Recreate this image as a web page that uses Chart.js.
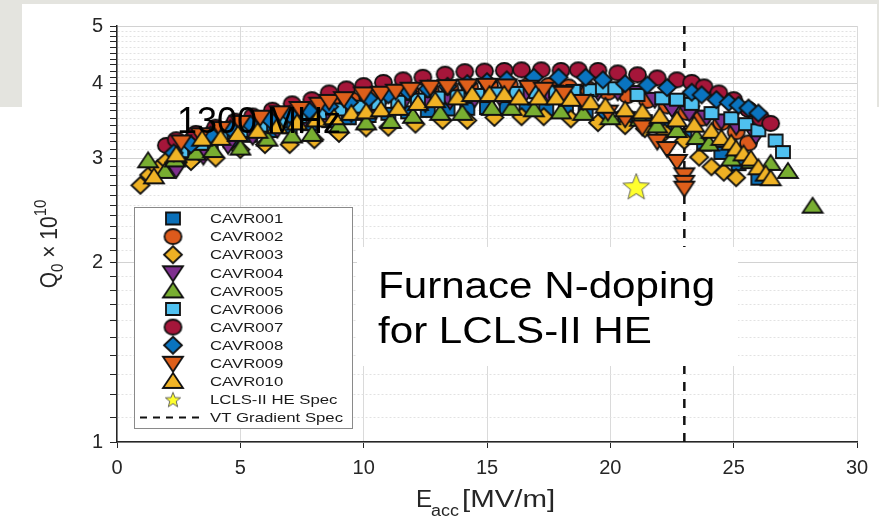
<!DOCTYPE html>
<html>
<head>
<meta charset="utf-8">
<script src="https://cdn.jsdelivr.net/npm/chart.js@4.4.1/dist/chart.umd.min.js"></script>
<style>
html, body { margin: 0; padding: 0; background: #fff; }
#wrap { position: relative; width: 879px; height: 518px; overflow: hidden; background: #fff; }
#slide { position: absolute; left: 0; top: 0; width: 879px; height: 107px; background: #e4e4df; }
#paper { position: absolute; left: 22px; top: 4px; width: 855px; height: 514px; background: #fff; }
#under { position: absolute; left: 0; top: 107px; width: 879px; height: 411px; background: #fff; }
#chart { position: absolute; left: 0; top: 0; }
</style>
</head>
<body>
<div id="wrap">
  <div id="slide"></div>
  <div id="paper"></div>
  <div id="under"></div>
  <canvas id="chart" width="879" height="518"></canvas>
</div>
<script>
// Q0 (x 1e10) vs Eacc (MV/m)
const cavr001X = [2.2, 3.0, 3.8, 4.6, 5.4, 6.2, 7.0, 7.8, 8.6, 9.4, 10.2, 11.0, 11.8, 12.6, 13.4, 14.2, 15.0, 15.8, 16.6, 17.4, 18.2, 19.0, 19.8, 20.6, 21.4, 22.2, 23.0, 23.8, 24.5, 25.2, 26.0];
const cavr001Y = [2.95, 3.04, 3.12, 3.20, 3.27, 3.33, 3.38, 3.42, 3.46, 3.50, 3.53, 3.56, 3.58, 3.60, 3.62, 3.63, 3.64, 3.64, 3.63, 3.62, 3.60, 3.58, 3.55, 3.51, 3.46, 3.38, 3.28, 3.16, 3.06, 2.93, 2.77];

const cavr002X = [2.3, 3.1, 3.9, 4.7, 5.5, 6.3, 7.1, 7.9, 8.7, 9.5, 10.3, 11.1, 11.9, 12.7, 13.5, 14.3, 15.1, 15.9, 16.7, 17.5, 18.3, 19.1, 19.9, 20.7, 21.5, 22.3, 23.1, 23.7, 24.5, 25.1, 25.6];
const cavr002Y = [3.14, 3.24, 3.32, 3.40, 3.47, 3.54, 3.60, 3.66, 3.71, 3.76, 3.80, 3.84, 3.87, 3.90, 3.93, 3.95, 3.97, 3.98, 3.98, 3.97, 3.95, 3.92, 3.87, 3.82, 3.75, 3.67, 3.58, 3.50, 3.44, 3.32, 3.18];

const cavr003X = [0.95, 1.3, 1.65, 2.0, 2.55, 3.0, 4.0, 5.0, 6.0, 7.0, 8.0, 9.0, 10.1, 11.0, 12.1, 13.2, 14.2, 15.3, 16.4, 17.3, 18.4, 19.5, 20.6, 21.4, 22.2, 23.0, 23.6, 24.1, 24.6, 25.1];
const cavr003Y = [2.70, 2.81, 2.88, 2.97, 3.03, 2.96, 3.00, 3.10, 3.16, 3.16, 3.22, 3.30, 3.37, 3.38, 3.42, 3.47, 3.47, 3.51, 3.52, 3.52, 3.49, 3.44, 3.40, 3.36, 3.31, 3.21, 3.01, 2.90, 2.84, 2.78];

const cavr004X = [2.4, 3.5, 4.5, 5.5, 6.5, 7.5, 8.5, 9.5, 10.5, 11.5, 12.5, 13.5, 14.5, 15.5, 16.5, 17.5, 18.5, 19.5, 20.3, 21.1, 21.8, 22.5, 23.2, 23.9, 24.5, 25.1, 25.9];
const cavr004Y = [2.86, 3.01, 3.14, 3.25, 3.34, 3.42, 3.49, 3.55, 3.60, 3.65, 3.69, 3.73, 3.76, 3.79, 3.81, 3.83, 3.85, 3.86, 3.86, 3.85, 3.75, 3.62, 3.56, 3.50, 3.45, 3.38, 3.26];

const cavr005X = [1.26, 1.95, 2.35, 3.2, 3.9, 5.0, 6.1, 7.1, 7.9, 9.0, 10.1, 11.1, 12.0, 13.1, 14.0, 15.2, 16.0, 16.9, 18.0, 18.9, 20.0, 21.2, 21.9, 22.7, 23.5, 24.0, 24.9, 25.7, 26.5, 27.2, 28.2];
const cavr005Y = [2.98, 2.86, 2.99, 3.07, 3.10, 3.13, 3.24, 3.28, 3.30, 3.41, 3.45, 3.47, 3.54, 3.58, 3.58, 3.65, 3.65, 3.63, 3.60, 3.58, 3.52, 3.50, 3.41, 3.35, 3.26, 3.18, 3.00, 2.97, 2.95, 2.86, 2.50];

const cavr006X = [2.6, 3.4, 4.2, 5.0, 5.8, 6.6, 7.4, 8.2, 9.0, 9.8, 10.6, 11.4, 12.2, 13.0, 13.8, 14.6, 15.4, 16.2, 17.0, 17.8, 18.5, 19.2, 19.7, 20.2, 21.1, 22.1, 22.7, 23.3, 24.1, 24.9, 25.5, 26.0, 26.7, 27.0];
const cavr006Y = [3.08, 3.17, 3.25, 3.33, 3.40, 3.46, 3.52, 3.57, 3.62, 3.66, 3.70, 3.73, 3.76, 3.79, 3.81, 3.83, 3.85, 3.86, 3.87, 3.88, 3.89, 3.90, 3.93, 3.93, 3.83, 3.78, 3.76, 3.70, 3.57, 3.50, 3.42, 3.34, 3.21, 3.07];

const cavr007X = [2.0, 2.4, 3.2, 4.0, 4.8, 5.5, 6.3, 7.1, 7.9, 8.6, 9.3, 10.0, 10.8, 11.6, 12.4, 13.3, 14.1, 14.9, 15.7, 16.4, 17.2, 18.0, 18.7, 19.5, 20.3, 21.1, 21.9, 22.7, 23.3, 23.8, 24.4, 25.0, 25.6, 26.1, 26.5];
const cavr007Y = [3.15, 3.22, 3.30, 3.38, 3.46, 3.53, 3.61, 3.70, 3.76, 3.86, 3.92, 3.97, 4.02, 4.06, 4.10, 4.15, 4.19, 4.20, 4.21, 4.22, 4.22, 4.21, 4.22, 4.21, 4.17, 4.14, 4.09, 4.06, 4.02, 3.95, 3.86, 3.76, 3.62, 3.50, 3.43];

const cavr008X = [2.3, 3.0, 3.8, 4.6, 5.4, 6.2, 7.0, 7.8, 8.6, 9.4, 10.2, 11.0, 11.8, 12.6, 13.4, 14.2, 15.0, 15.8, 16.9, 17.9, 19.0, 19.7, 20.6, 21.5, 22.3, 23.3, 23.7, 24.3, 24.8, 25.2, 25.6, 26.0];
const cavr008Y = [3.06, 3.16, 3.28, 3.36, 3.42, 3.48, 3.55, 3.60, 3.66, 3.72, 3.78, 3.83, 3.88, 3.92, 3.96, 4.00, 4.03, 4.06, 4.10, 4.10, 4.10, 4.06, 4.00, 3.98, 3.94, 3.87, 3.83, 3.76, 3.72, 3.68, 3.64, 3.57];

const cavr009X = [2.6, 3.4, 4.2, 5.0, 5.8, 6.6, 7.4, 8.2, 8.6, 9.2, 10.0, 10.7, 11.3, 11.9, 12.7, 13.4, 14.2, 15.0, 15.8, 16.7, 17.3, 18.1, 18.9, 19.9, 20.6, 21.3, 21.9, 22.3, 22.7, 23.0, 23.0, 23.0];
const cavr009Y = [3.18, 3.27, 3.35, 3.43, 3.50, 3.56, 3.62, 3.68, 3.72, 3.76, 3.83, 3.84, 3.87, 3.90, 3.93, 3.94, 3.95, 3.96, 3.95, 3.93, 3.90, 3.84, 3.72, 3.57, 3.48, 3.37, 3.19, 3.10, 2.95, 2.80, 2.72, 2.66];

const cavr010X = [1.5, 2.4, 3.45, 4.2, 4.9, 5.7, 6.5, 7.3, 8.1, 8.8, 9.5, 10.1, 10.7, 11.4, 12.2, 12.9, 13.8, 14.4, 15.1, 15.7, 16.3, 17.1, 17.8, 18.4, 19.2, 19.8, 20.6, 21.3, 22.0, 22.7, 23.4, 24.1, 24.5, 24.9, 25.1, 25.4, 25.7, 26.0, 26.3, 26.5];
const cavr010Y = [2.80, 3.05, 3.24, 3.25, 3.30, 3.34, 3.40, 3.45, 3.49, 3.52, 3.58, 3.60, 3.63, 3.65, 3.72, 3.76, 3.80, 3.85, 3.85, 3.85, 3.80, 3.80, 3.80, 3.78, 3.73, 3.68, 3.63, 3.60, 3.54, 3.49, 3.42, 3.34, 3.25, 3.19, 3.12, 3.06, 3.00, 2.90, 2.83, 2.78];

const seriesNames = ['CAVR001', 'CAVR002', 'CAVR003', 'CAVR004', 'CAVR005', 'CAVR006', 'CAVR007', 'CAVR008', 'CAVR009', 'CAVR010'];
const seriesX = [cavr001X, cavr002X, cavr003X, cavr004X, cavr005X, cavr006X, cavr007X, cavr008X, cavr009X, cavr010X];
const seriesY = [cavr001Y, cavr002Y, cavr003Y, cavr004Y, cavr005Y, cavr006Y, cavr007Y, cavr008Y, cavr009Y, cavr010Y];
const seriesShape = ['square', 'circle', 'diamond', 'down', 'up', 'square', 'circle', 'diamond', 'down', 'up'];
const seriesColor = ['#0a6fb8', '#dc5a1c', '#eeb124', '#7e2f8e', '#78ae31', '#4fc0ef', '#a5163a', '#0a74c0', '#de5f1a', '#f0b326'];

const specStarX = [21.05];
const specStarY = [2.69];
const gradSpecX = [23, 23];
const gradSpecY = [1, 5];

const xTickValues = [0, 5, 10, 15, 20, 25, 30];
const yTickLabels = ['1', '2', '3', '4', '5'];

const FONT = '"Liberation Sans", Arial, sans-serif';
Chart.defaults.font.family = FONT;

// marker sizes (w x h) as they appear in the figure
const markerSize = {
    circle: [17, 15],
    square: [14, 12],
    diamond: [18, 17],
    up: [20, 15],
    down: [20, 15]
};

function makeMarker(shape, fill) {
    const w = markerSize[shape][0], h = markerSize[shape][1];
    const c = document.createElement('canvas');
    c.width = w + 4; c.height = h + 4;
    const g = c.getContext('2d');
    const cx = c.width / 2, cy = c.height / 2, a = w / 2, b = h / 2;
    g.beginPath();
    if (shape === 'circle') {
        g.ellipse(cx, cy, a, b, 0, 0, Math.PI * 2);
    } else if (shape === 'square') {
        g.rect(cx - a, cy - b, w, h);
    } else if (shape === 'diamond') {
        g.moveTo(cx, cy - b); g.lineTo(cx + a, cy); g.lineTo(cx, cy + b); g.lineTo(cx - a, cy); g.closePath();
    } else if (shape === 'up') {
        g.moveTo(cx, cy - b); g.lineTo(cx + a, cy + b); g.lineTo(cx - a, cy + b); g.closePath();
    } else {
        g.moveTo(cx, cy + b); g.lineTo(cx + a, cy - b); g.lineTo(cx - a, cy - b); g.closePath();
    }
    g.fillStyle = fill;
    g.fill();
    g.lineWidth = 1.8;
    g.strokeStyle = '#111';
    g.stroke();
    return c;
}

function makeStar(R, r) {
    const s = Math.ceil(2 * R + 4);
    const c = document.createElement('canvas');
    c.width = s; c.height = s;
    const g = c.getContext('2d');
    const cx = s / 2, cy = s / 2 + R * 0.1;
    g.beginPath();
    for (let k = 0; k < 10; k++) {
        const ang = -Math.PI / 2 + k * Math.PI / 5;
        const rr = k % 2 ? r : R;
        g.lineTo(cx + rr * Math.cos(ang), cy + rr * Math.sin(ang));
    }
    g.closePath();
    g.fillStyle = '#ffff2e';
    g.fill();
    g.lineWidth = 0.9;
    g.strokeStyle = '#555';
    g.stroke();
    return c;
}

const markers = seriesShape.map((s, i) => makeMarker(s, seriesColor[i]));
const bigStar = makeStar(14, 6);
const smallStar = makeStar(8, 3.4);

const datasets = seriesNames.map((name, i) => ({
    label: name,
    data: seriesX[i].map((x, k) => ({ x: x, y: seriesY[i][k] })),
    pointStyle: markers[i],
    pointRadius: 8,
    showLine: false,
    clip: false,
    order: 20 - i
}));

datasets.push({
    label: 'LCLS-II HE Spec',
    data: specStarX.map((x, k) => ({ x: x, y: specStarY[k] })),
    pointStyle: bigStar,
    pointRadius: 10,
    showLine: false,
    clip: false,
    order: 0
});

datasets.push({
    type: 'line',
    label: 'VT Gradient Spec',
    data: gradSpecX.map((x, k) => ({ x: x, y: gradSpecY[k] })),
    borderColor: '#111',
    borderWidth: 2.5,
    borderDash: [9, 8],
    pointRadius: 0,
    showLine: true,
    order: 30
});

function isMajor(v) {
    return Math.abs(v - Math.round(v)) < 1e-6;
}

function stretchText(ctx, text, x, y, sx) {
    ctx.save();
    ctx.translate(x, y);
    ctx.scale(sx, 1);
    ctx.fillText(text, 0, 0);
    ctx.restore();
}

const overlay = {
    id: 'overlay',
    afterDraw(chart) {
        const ctx = chart.ctx;
        ctx.save();

        // 1300 MHz label sitting over the markers
        ctx.fillStyle = '#000';
        ctx.font = '36px ' + FONT;
        ctx.textBaseline = 'alphabetic';
        ctx.textAlign = 'left';
        ctx.fillText('1300 MHz', 177, 133);

        // legend box
        const lx = 134, ly = 207, lw = 218, lh = 221;
        ctx.fillStyle = '#fff';
        ctx.fillRect(lx, ly, lw, lh);
        ctx.strokeStyle = '#8a8a8a';
        ctx.lineWidth = 1;
        ctx.strokeRect(lx + 0.5, ly + 0.5, lw, lh);
        const rowY0 = 218.5, rowStep = 18.1;
        ctx.font = '13.5px ' + FONT;
        ctx.textBaseline = 'middle';
        for (let i = 0; i < seriesNames.length; i++) {
            const y = rowY0 + i * rowStep;
            const m = markers[i];
            let dy = 0;
            if (seriesShape[i] === 'down') dy = 1;
            if (seriesShape[i] === 'up') dy = -1;
            ctx.drawImage(m, 173 - m.width / 2, y + dy - m.height / 2);
            ctx.fillStyle = '#1a1a1a';
            stretchText(ctx, seriesNames[i], 210, y + 1, 1.24);
        }
        let y = rowY0 + 10 * rowStep;
        ctx.drawImage(smallStar, 173 - smallStar.width / 2, y - smallStar.height / 2);
        ctx.fillStyle = '#1a1a1a';
        stretchText(ctx, 'LCLS-II HE Spec', 210, y + 1, 1.24);
        y = rowY0 + 11 * rowStep;
        ctx.strokeStyle = '#111';
        ctx.lineWidth = 2;
        ctx.setLineDash([7, 6]);
        ctx.beginPath();
        ctx.moveTo(140, y);
        ctx.lineTo(205, y);
        ctx.stroke();
        ctx.setLineDash([]);
        stretchText(ctx, 'VT Gradient Spec', 210, y + 1, 1.24);

        // annotation box
        ctx.fillStyle = '#fff';
        ctx.fillRect(357, 247, 381, 119);
        ctx.fillStyle = '#000';
        ctx.font = '36px ' + FONT;
        ctx.textBaseline = 'alphabetic';
        stretchText(ctx, 'Furnace N-doping', 378, 298, 1.17);
        stretchText(ctx, 'for LCLS-II HE', 378, 343, 1.17);

        // y axis title: Q0 x 10^10
        ctx.save();
        ctx.translate(57, 244);
        ctx.rotate(-Math.PI / 2);
        ctx.scale(1, 1.15);
        ctx.fillStyle = '#262626';
        const big = '21px ' + FONT, small = '15px ' + FONT;
        ctx.font = big;
        const wQ = ctx.measureText('Q').width;
        const wMid = ctx.measureText(' \u00d7 10').width;
        ctx.font = small;
        const w0 = ctx.measureText('0').width;
        const w10 = ctx.measureText('10').width;
        let tx = -(wQ + w0 + wMid + w10) / 2;
        ctx.font = big;
        ctx.fillText('Q', tx, 0); tx += wQ;
        ctx.font = small;
        ctx.fillText('0', tx, 5); tx += w0;
        ctx.font = big;
        ctx.fillText(' \u00d7 10', tx, 0); tx += wMid;
        ctx.font = small;
        ctx.fillText('10', tx, -10);
        ctx.restore();

        // x axis title: E_acc [MV/m]
        ctx.fillStyle = '#262626';
        ctx.font = '23px ' + FONT;
        stretchText(ctx, 'E', 416, 507, 1.05);
        ctx.font = '16px ' + FONT;
        stretchText(ctx, 'acc', 431, 516, 1.12);
        ctx.font = '23px ' + FONT;
        stretchText(ctx, '[MV/m]', 462, 507, 1.28);

        ctx.restore();
    }
};

new Chart(document.getElementById('chart'), {
    type: 'scatter',
    data: { datasets: datasets },
    options: {
        responsive: false,
        animation: false,
        events: [],
        layout: { padding: { left: 0, right: 22, top: 26, bottom: 0 } },
        plugins: {
            legend: { display: false },
            tooltip: { enabled: false },
            title: { display: false }
        },
        scales: {
            x: {
                type: 'linear',
                min: 0,
                max: 30,
                afterFit: (s) => { s.height = 76; },
                afterBuildTicks: (s) => { s.ticks = xTickValues.map(v => ({ value: v })); },
                ticks: {
                    autoSkip: false,
                    maxRotation: 0,
                    padding: 8,
                    color: '#262626',
                    font: { size: 20 }
                },
                grid: {
                    color: '#dadada',
                    lineWidth: 1,
                    tickColor: '#262626',
                    tickLength: 6
                },
                border: { color: '#262626', width: 1.5 }
            },
            y: {
                type: 'logarithmic',
                min: 1,
                max: 5,
                afterFit: (s) => { s.width = 117; },
                afterBuildTicks: (s) => {
                    const t = [];
                    for (let k = 10; k <= 50; k++) t.push({ value: k / 10 });
                    s.ticks = t;
                },
                ticks: {
                    autoSkip: false,
                    padding: 7,
                    color: '#262626',
                    font: { size: 20 },
                    callback: (v) => isMajor(v) ? yTickLabels[Math.round(v) - 1] : ''
                },
                grid: {
                    color: (c) => (c.tick && isMajor(c.tick.value)) ? '#d2d2d2' : '#e2e2e2',
                    lineWidth: 1,
                    tickColor: '#262626',
                    tickLength: 7
                },
                border: {
                    color: '#262626',
                    width: 1.5,
                    dash: (c) => (c.tick && !isMajor(c.tick.value)) ? [2, 2] : []
                }
            }
        }
    },
    plugins: [overlay]
});
</script>
</body>
</html>
